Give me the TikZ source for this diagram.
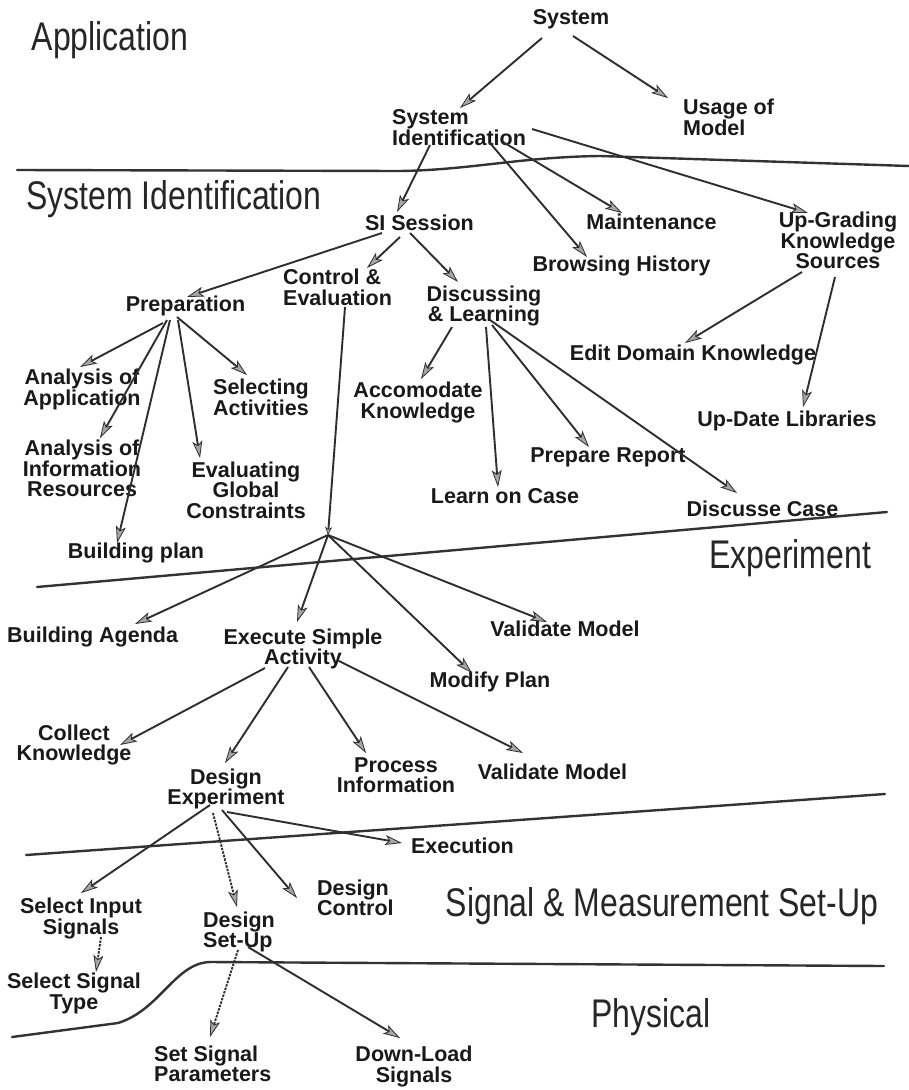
\documentclass[tikz,border=0pt]{standalone}
\usepackage{fontspec}
\setmainfont{Liberation Sans}
\newfontfamily\regionfont[FakeStretch=0.8]{Liberation Sans}
\usetikzlibrary{arrows.meta}

\begin{document}
\begin{tikzpicture}[x=1pt,y=-1pt,
  lbl/.style={font=\fontsize{21.5}{20.5}\selectfont\bfseries, inner sep=0pt, align=center, text=black!90},
  lbll/.style={lbl, align=left, anchor=west},
  region/.style={font=\regionfont\fontsize{40}{40}\selectfont, inner sep=0pt, text=black!85},
  bound/.style={line width=2.4pt, draw=black!80, line cap=round, line join=round},
  arr/.style={line width=1.9pt, draw=black!82,
    -{Stealth[length=17pt, width=10pt, inset=4pt, line width=0.8pt, fill=black!35]}},
  dotarr/.style={arr, dash pattern=on 2.4pt off 1.2pt},
  smallarr/.style={line width=1.9pt, draw=black!82,
    -{Stealth[length=8pt, width=7pt, inset=2pt, line width=0.6pt, fill=black!35]}}
]
\useasboundingbox (0,0) rectangle (909,1090);
\fill[white] (0,0) rectangle (909,1090);

% ---------- layer boundaries ----------
\draw[bound] (17,170) -- (400,171) .. controls (470,170) and (520,157) .. (600,156) -- (909,166);
\draw[bound] (37,587) -- (887,512);
\draw[bound] (26,855) -- (885,794);
\draw[bound] (12,1037) -- (118,1023) .. controls (160,1010) and (175,963) .. (210,962) -- (884,966);

% ---------- layer titles ----------
\node[region] (tApp) at (110,40) {Application};
\node[region] (tSI)  at (174,199) {System Identification};
\node[region] (tExp) at (790,558) {Experiment};
\node[region] (tSig) at (662,906) {Signal \& Measurement Set-Up};
\node[region] (tPhy) at (651,1017) {Physical};

% ---------- tasks ----------
\node[lbl]  (sys)    at (571,19)    {System};
\node[lbll] (usage)  at (683,117.5) {Usage of\\Model};
\node[lbll] (sysid)  at (392,127.5) {System\\Identification};
\node[lbl]  (sis)    at (419.5,222.5) {SI Session};
\node[lbl]  (maint)  at (651.5,221.5) {Maintenance};
\node[lbl]  (browse) at (621.5,266) {Browsing History};
\node[lbl]  (upg)    at (838,240.5) {Up-Grading\\Knowledge\\Sources};
\node[lbl]  (edit)   at (693,355)   {Edit Domain Knowledge};
\node[lbl]  (upd)    at (787,421)   {Up-Date Libraries};

\node[lbl]  (prep)   at (185.5,306) {Preparation};
\node[lbll] (ce)     at (283,287.5) {Control \&\\Evaluation};
\node[lbl]  (dl)     at (484,306)   {Discussing\\\& Learning};

\node[lbl]  (aa)     at (82,389.5)  {Analysis of\\Application};
\node[lbl]  (ai)     at (82,468.5)  {Analysis of\\Information\\Resources};
\node[lbl]  (bp)     at (136,552.5) {Building plan};
\node[lbl]  (egc)    at (246,490)   {Evaluating\\Global\\Constraints};
\node[lbll] (sa)     at (213,397.5) {Selecting\\Activities};

\node[lbl]  (ak)     at (418,402.5) {Accomodate\\Knowledge};
\node[lbl]  (loc)    at (505,496.5) {Learn on Case};
\node[lbl]  (pr)     at (608,457)   {Prepare Report};
\node[lbl]  (dc)     at (762.5,508.5) {Discusse Case};

\coordinate (hub) at (328,535);
\node[lbll] (ba)     at (7,636.5)   {Building Agenda};
\node[lbl]  (esa)    at (303,649)   {Execute Simple\\Activity};
\node[lbl]  (mp)     at (490,681.5) {Modify Plan};
\node[lbl]  (vm1)    at (565,628.5) {Validate Model};

\node[lbl]  (ck)     at (74,745)    {Collect\\Knowledge};
\node[lbl]  (de)     at (226,789)   {Design\\Experiment};
\node[lbl]  (pi)     at (396,775)   {Process\\Information};
\node[lbl]  (vm2)    at (552.5,771.5) {Validate Model};

\node[lbl]  (exe)    at (462.5,846) {Execution};
\node[lbl]  (sis2)   at (81,918.5)  {Select Input\\Signals};
\node[lbll] (dsu)    at (203,932)   {Design\\Set-Up};
\node[lbll] (dcn)    at (317,898)   {Design\\Control};
\node[lbl]  (sst)    at (74,993.5)  {Select Signal\\Type};
\node[lbll] (ssp)    at (154,1064)  {Set Signal\\Parameters};
\node[lbl]  (dls)    at (414,1066.5) {Down-Load\\Signals};

% ---------- decomposition arrows ----------
% Application level
\draw[arr] ([shift={(-29,19)}]sys.center) -- ([shift={(68,-19.5)}]sysid.west);
\draw[arr] ([shift={(2,17)}]sys.center) -- ([shift={(-15,-19.5)}]usage.west);

% System identification level
\draw[arr] ([shift={(38,17.5)}]sysid.west) -- ([shift={(-22.5,-10.5)}]sis.center);
\draw[arr] ([shift={(98,15.5)}]sysid.west) -- ([shift={(-34.5,-9)}]browse.center);
\draw[arr] ([shift={(111,14.5)}]sysid.west) -- ([shift={(-29.5,-8.5)}]maint.center);
\draw[arr] ([shift={(140,1.5)}]sysid.west) -- ([shift={(-30,-27.5)}]upg.center);
\draw[arr] ([shift={(-36,31.5)}]upg.center) -- ([shift={(-8,-12)}]edit.center);
\draw[arr] ([shift={(-3,36.5)}]upg.center) -- ([shift={(16,-14)}]upd.center);

\draw[arr] ([shift={(-37.5,10.5)}]sis.center) -- ([shift={(1.5,-9)}]prep.center);
\draw[arr] ([shift={(-19.5,14.5)}]sis.center) -- ([shift={(84,-19.5)}]ce.west);
\draw[arr] ([shift={(-9.5,10.5)}]sis.center) -- ([shift={(-26,-24)}]dl.center);

\draw[arr] ([shift={(-22.5,17)}]prep.center) -- ([shift={(-2,-22.5)}]aa.center);
\draw[arr] ([shift={(-18.5,14)}]prep.center) -- ([shift={(18,-30.5)}]ai.center);
\draw[arr] ([shift={(-15.5,14)}]prep.center) -- ([shift={(-19,-9.5)}]bp.center);
\draw[arr] ([shift={(-7.5,14)}]prep.center) -- ([shift={(-46,-32)}]egc.center);
\draw[arr] ([shift={(-8.5,11)}]prep.center) -- ([shift={(34,-22.5)}]sa.west);

\draw[arr] ([shift={(-32,21)}]dl.center) -- ([shift={(3,-23.5)}]ak.center);
\draw[arr] ([shift={(2,21)}]dl.center) -- ([shift={(-7,-9.5)}]loc.center);
\draw[arr] ([shift={(8,19)}]dl.center) -- ([shift={(-19,-10)}]pr.center);
\draw[arr] ([shift={(6,14)}]dl.center) -- ([shift={(-25.5,-15.5)}]dc.center);

\draw[smallarr] ([shift={(62,19.5)}]ce.west) -- (hub);

% Experiment level
\draw[arr] (hub) -- ([shift={(128,-12.5)}]ba.west);
\draw[arr] (hub) -- ([shift={(-6,-27)}]esa.center);
\draw[arr] (hub) -- ([shift={(-18,-8.5)}]mp.center);
\draw[arr] (hub) -- ([shift={(-18,-6.5)}]vm1.center);

\draw[arr] ([shift={(-38,19)}]esa.center) -- ([shift={(46,0)}]ck.center);
\draw[arr] ([shift={(-15,18)}]esa.center) -- ([shift={(-1,-26)}]de.center);
\draw[arr] ([shift={(6,18)}]esa.center) -- ([shift={(-30,-22)}]pi.center);
\draw[arr] ([shift={(34,11)}]esa.center) -- ([shift={(-29.5,-18.5)}]vm2.center);

% Signal & measurement set-up level
\draw[arr] ([shift={(-16,16)}]de.center) -- ([shift={(0,-25.5)}]sis2.center);
\draw[dotarr] ([shift={(-13,24)}]de.center) -- ([shift={(34,-25)}]dsu.west);
\draw[arr] ([shift={(-4,21)}]de.center) -- ([shift={(-20,0)}]dcn.west);
\draw[arr] ([shift={(1,23)}]de.center) -- ([shift={(-60.5,-3)}]exe.center);

\draw[dotarr] ([shift={(20,18.5)}]sis2.center) -- ([shift={(22,-21.5)}]sst.center);

% Physical level
\draw[dotarr] ([shift={(35,18)}]dsu.west) -- ([shift={(56,-27)}]ssp.west);
\draw[arr] ([shift={(45,15)}]dsu.west) -- ([shift={(-14,-28.5)}]dls.center);
\end{tikzpicture}
\end{document}
